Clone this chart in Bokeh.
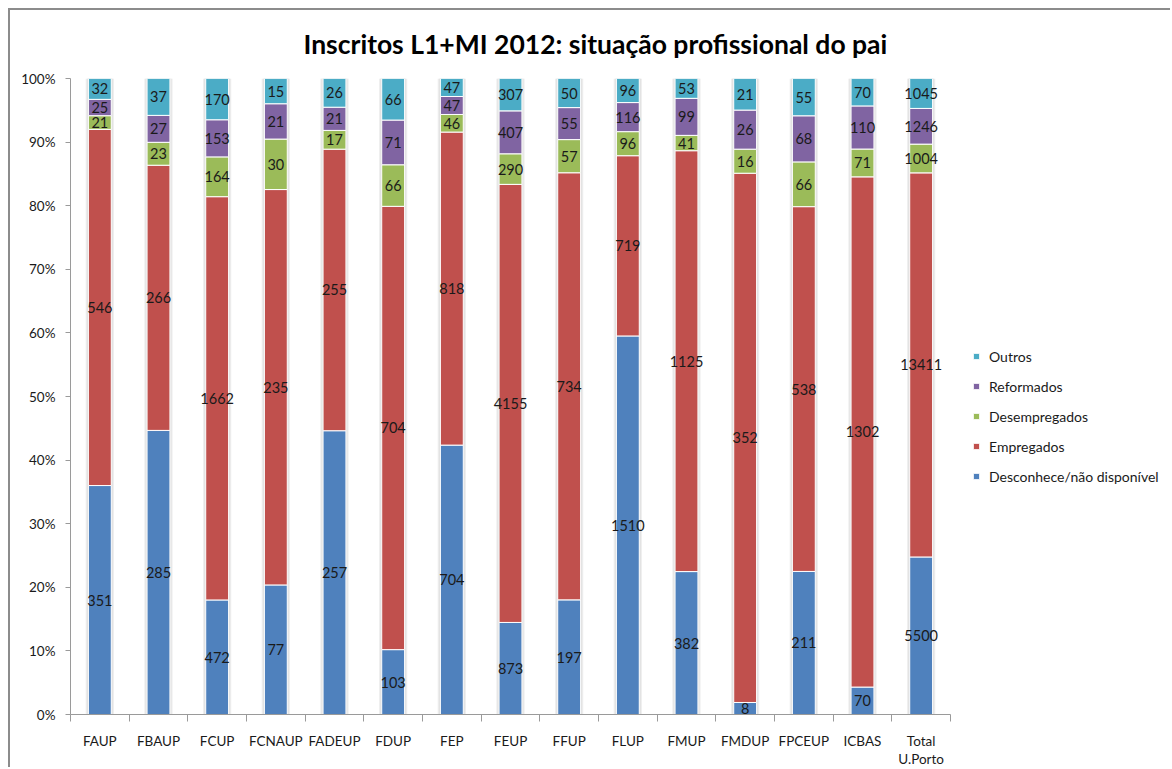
import numpy as np
from bokeh.plotting import figure
from bokeh.models import (ColumnDataSource, Range1d, FixedTicker, NumeralTickFormatter,
                          Legend, LegendItem, Title)
from bokeh.core.properties import value
from bokeh.embed import file_html
from bokeh.resources import INLINE

categories = ["FAUP", "FBAUP", "FCUP", "FCNAUP", "FADEUP", "FDUP", "FEP", "FEUP",
              "FFUP", "FLUP", "FMUP", "FMDUP", "FPCEUP", "ICBAS", "Total\nU.Porto"]
desconhece = [351, 285, 472, 77, 257, 103, 704, 873, 197, 1510, 382, 8, 211, 70, 5500]
empregados = [546, 266, 1662, 235, 255, 704, 818, 4155, 734, 719, 1125, 352, 538, 1302, 13411]
desempregados = [21, 23, 164, 30, 17, 66, 46, 290, 57, 96, 41, 16, 66, 71, 1004]
reformados = [25, 27, 153, 21, 21, 71, 47, 407, 55, 116, 99, 26, 68, 110, 1246]
outros = [32, 37, 170, 15, 26, 66, 47, 307, 50, 96, 53, 21, 55, 70, 1045]

series_names = ["Desconhece/não disponível", "Empregados", "Desempregados", "Reformados", "Outros"]
series_values = [desconhece, empregados, desempregados, reformados, outros]
colors = ["#4F81BD", "#C0504D", "#9BBB59", "#8064A2", "#4BACC6"]

FONT = "Lato"

vals = np.array(series_values, dtype=float)
totals = vals.sum(axis=0)
pct = vals / totals
cum = np.cumsum(pct, axis=0)
xs = np.arange(len(categories))
n = len(categories)

data = {"x": xs, "total": cum[-1]}
keys = []
for i, name in enumerate(series_names):
    k = f"s{i}"
    keys.append(k)
    data[k] = pct[i]
source = ColumnDataSource(data)

# layout: plot area of the bars is 880 px wide; the frame extends to the right
# edge so that the legend can sit inside it
W, H = 1162, 759
LEFT = 60
bars_px = 880.0
frame_px = W - LEFT
x_end = -0.5 + frame_px / (bars_px / n)

p = figure(width=W, height=H, output_backend="svg", toolbar_location=None,
           x_range=Range1d(-0.5, x_end), y_range=Range1d(0, 1),
           min_border_left=LEFT, min_border_right=0, min_border_top=68, min_border_bottom=53)
p.outline_line_color = None
p.xgrid.visible = False
p.ygrid.visible = False
p.styles = {"margin-left": "8px", "margin-top": "8px",
            "border-top": "2px solid #8c8c8c", "border-left": "2px solid #8c8c8c"}

# faint shadow around the bars
p.vbar(x="x", top="total", bottom=0, width=0.48, source=source,
       fill_color="#e6e6e6", fill_alpha=0.7, line_color=None)
p.vbar(x="x", top="total", bottom=0, width=0.44, source=source,
       fill_color="#dcdcdc", fill_alpha=0.8, line_color=None)

renderers = p.vbar_stack(keys, x="x", width=0.39, color=colors, source=source,
                         line_color="white", line_width=1)

# data labels
centers = cum - pct / 2
lx, ly, lt = [], [], []
for i in range(len(series_names)):
    for j in range(n):
        lx.append(xs[j]); ly.append(centers[i, j]); lt.append(str(int(vals[i, j])))
p.text(x=lx, y=ly, text=lt, text_align="center", text_baseline="middle",
       text_font=value(FONT), text_font_size="14.5px", text_color="#1a1a1a")

# title
t = Title(text="Inscritos L1+MI 2012: situação profissional do pai", align="left",
          text_font=FONT, text_font_size="26.5px", text_font_style="bold",
          text_color="#000000", offset=233, standoff=34, text_line_height=1.0,
          vertical_align="top")
p.add_layout(t, "above")

# y axis
p.yaxis.ticker = FixedTicker(ticks=[i / 10 for i in range(11)], minor_ticks=[])
p.yaxis.formatter = NumeralTickFormatter(format="0%")
p.yaxis.axis_line_color = "#9a9a9a"
p.yaxis.major_tick_line_color = "#9a9a9a"
p.yaxis.major_tick_out = 5
p.yaxis.major_tick_in = 0
p.yaxis.major_label_text_font = FONT
p.yaxis.major_label_text_font_size = "13.5px"
p.yaxis.major_label_text_color = "#1a1a1a"
p.yaxis.major_label_standoff = 10

# x axis
p.xaxis.bounds = (-0.5, n - 0.5)
p.xaxis.ticker = FixedTicker(ticks=list(xs), minor_ticks=[x - 0.5 for x in range(n + 1)])
p.xaxis.major_label_overrides = {int(x): c for x, c in zip(xs, categories)}
p.xaxis.axis_line_color = "#9a9a9a"
p.xaxis.major_tick_line_color = None
p.xaxis.major_tick_out = 0
p.xaxis.minor_tick_line_color = "#9a9a9a"
p.xaxis.minor_tick_out = 7
p.xaxis.minor_tick_in = 0
p.xaxis.major_label_text_font = FONT
p.xaxis.major_label_text_font_size = "13.5px"
p.xaxis.major_label_text_line_height = 1.15
p.xaxis.major_label_text_color = "#1a1a1a"
p.xaxis.major_label_standoff = 11

items = [LegendItem(label=series_names[i], renderers=[renderers[i]]) for i in reversed(range(len(series_names)))]
legend = Legend(items=items, location=(902, 228), padding=0, margin=0,
                border_line_color=None, background_fill_alpha=0,
                label_text_font=FONT, label_text_font_size="14px", label_text_color="#1a1a1a",
                glyph_width=8, glyph_height=8, label_height=20, spacing=10, label_standoff=9)
p.add_layout(legend, "center")

open("out.html", "w").write(file_html(p, INLINE))
